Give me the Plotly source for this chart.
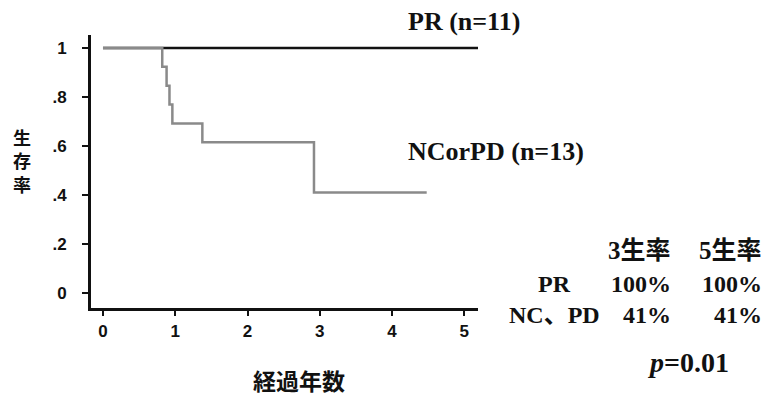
import plotly.graph_objects as go

# ---- data ----
pr_time = [0, 5.19]
pr_surv = [1.0, 1.0]
nc_time = [0, 0.82, 0.88, 0.92, 0.96, 1.375, 2.92, 4.48]
nc_surv = [1.0, 0.923, 0.846, 0.769, 0.692, 0.615, 0.41, 0.41]

x_ticks = [0, 1, 2, 3, 4, 5]
x_ticklabels = ["0", "1", "2", "3", "4", "5"]
y_ticks = [0, 0.2, 0.4, 0.6, 0.8, 1.0]
y_ticklabels = ["0", ".2", ".4", ".6", ".8", "1"]

table_cols = ["3生率", "5生率"]
table_rows = ["PR", "NC、PD"]
table_vals = [["100%", "100%"], ["41%", "41%"]]
p_text = "<i>p</i>=0.01"
y_title = "生<br>存<br>率"
x_title = "経過年数"

W, H = 769, 397
L, R, T, B = 91, 478, 35, 308  # plot area in pixels


def px(x):
    return (x - L) / (R - L)


def py(y):
    return (B - y) / (B - T)


fig = go.Figure()
fig.add_trace(go.Scatter(x=pr_time, y=pr_surv, mode="lines", line_shape="hv",
                         line=dict(color="#111111", width=2.5), cliponaxis=False))
fig.add_trace(go.Scatter(x=nc_time, y=nc_surv, mode="lines", line_shape="hv",
                         line=dict(color="#8a8a8a", width=2.5), cliponaxis=False))

serif = "Liberation Serif, Times New Roman, Noto Sans CJK JP, serif"
cjk = "Noto Sans CJK JP, sans-serif"
ann = []


def add(text, x, y, xa="left", ya="middle", size=24, family=serif, weight="bold"):
    ann.append(dict(text=text, x=px(x), y=py(y), xref="paper", yref="paper",
                    xanchor=xa, yanchor=ya, showarrow=False,
                    font=dict(family=family, size=size, color="#111111", weight=weight)))


add("PR (n=11)", 406, 22, size=26)
add("NCorPD (n=13)", 406, 151, size=26)

col_right = [673, 764]
row_y = [284, 315]
for j, c in enumerate(table_cols):
    add(c, col_right[j], 250, xa="right", size=25)
for i, r in enumerate(table_rows):
    add(r, 554, row_y[i], xa="center", size=24)
    for j in range(2):
        add(table_vals[i][j], col_right[j], row_y[i], xa="right", size=24)
add(p_text, 688, 362, xa="center", size=28)

# axis titles
add(y_title, 22, 160, xa="center", size=18, family=cjk)
add(x_title, 299, 380, xa="center", size=23, family=cjk)

fig.update_layout(
    width=W, height=H, margin=dict(l=L, r=W - R, t=T, b=H - B),
    paper_bgcolor="white", plot_bgcolor="white", showlegend=False,
    annotations=ann,
    xaxis=dict(range=[-0.166, 5.19], tickvals=x_ticks, ticktext=x_ticklabels,
               showgrid=False, zeroline=False, showline=True, linecolor="#111111",
               linewidth=3, ticks="outside", ticklen=5, tickwidth=2, tickcolor="#111111",
               ticklabelstandoff=1,
               tickfont=dict(family="Liberation Sans, Arial", size=17, color="#111111", weight="bold")),
    yaxis=dict(range=[-0.061, 1.053], tickvals=y_ticks, ticktext=y_ticklabels,
               showgrid=False, zeroline=False, showline=True, linecolor="#111111",
               linewidth=3, ticks="outside", ticklen=6, tickwidth=2, tickcolor="#111111",
               ticklabelstandoff=12,
               tickfont=dict(family="Liberation Sans, Arial", size=17, color="#111111", weight="bold")),
)

fig.write_html("out.html")
